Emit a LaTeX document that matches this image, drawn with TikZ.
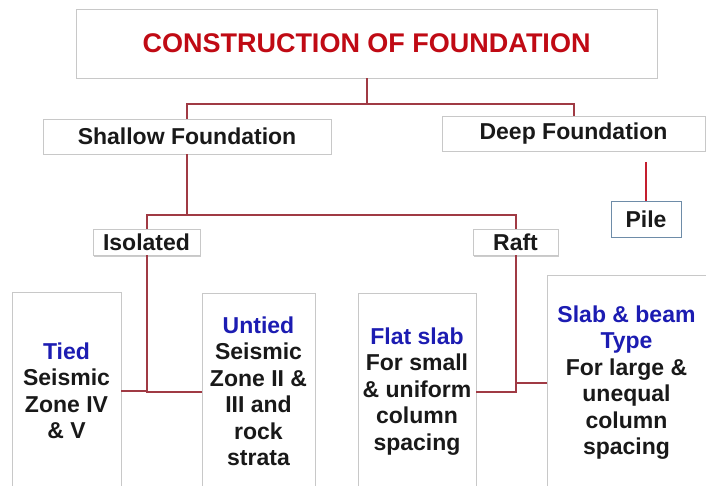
\documentclass[tikz,border=0pt]{standalone}
\usepackage{fontspec}
\setmainfont{Liberation Sans}
\usetikzlibrary{shadows}

\definecolor{linkred}{RGB}{160,58,68}
\definecolor{pilered}{RGB}{196,30,46}
\definecolor{headred}{RGB}{192,10,20}
\definecolor{typeblue}{RGB}{28,28,178}
\definecolor{boxgray}{RGB}{200,200,200}
\definecolor{pileedge}{RGB}{110,140,168}

\newcommand{\headfont}{\fontsize{27}{31}\selectfont\bfseries}
\newcommand{\bodyfont}{\fontsize{23}{26.5}\selectfont\bfseries}

\begin{document}
\begin{tikzpicture}[
    x=1pt, y=-1pt,
    box/.style={draw=boxgray, line width=0.8pt, fill=white, inner sep=0pt,
        align=center, text=black!90, font=\bodyfont,
        drop shadow={shadow xshift=1pt, shadow yshift=-1.5pt, fill=black!40, opacity=0.5}},
    link/.style={draw=linkred, line width=2pt}
]
\useasboundingbox (0,0) rectangle (706,486);

% Top heading
\node[box, minimum width=581, minimum height=69, font=\headfont, text=headred] (title) at (366.5,43.5) {CONSTRUCTION OF FOUNDATION};

% Two main kinds
\node[box, minimum width=288, minimum height=35] (shallow) at (187,136.5) {Shallow Foundation};
\node[box, minimum width=263, minimum height=35] (deep) at (573.5,133.5) {Deep Foundation};

% Deep foundation branch
\node[box, draw=pileedge, minimum width=70, minimum height=36] (pile) at (646,219) {Pile};
\coordinate (pileTop) at (646,162);

% Shallow foundation branch
\node[box, minimum width=107, minimum height=26] (iso) at (146.5,242) {Isolated};
\node[box, minimum width=85, minimum height=26] (raft) at (515.5,242) {Raft};

% Isolated footings
\node[box, minimum width=109, minimum height=198] (tied) at (66.5,391)
    {\textcolor{typeblue}{Tied}\\Seismic\\Zone IV\\\& V};
\node[box, minimum width=113, minimum height=197] (untied) at (258.5,391.5)
    {\textcolor{typeblue}{Untied}\\Seismic\\Zone II \&\\III and\\rock\\strata};

% Raft footings
\node[box, minimum width=118, minimum height=197] (flat) at (417,391.5)
    {\textcolor{typeblue}{Flat slab}\\For small\\\& uniform\\column\\spacing};
\node[box, minimum width=159, minimum height=215] (beam) at (626.5,382.5)
    {\textcolor{typeblue}{Slab \& beam}\\\textcolor{typeblue}{Type}\\For large \&\\unequal\\column\\spacing};

% Connectors
\draw[link] (title.south) -- ++(0,25.5) -| (shallow.north);
\draw[link] (title.south) -- ++(0,25.5) -| (deep.north);
\draw[link, draw=pilered] (pileTop) -- (pile.north);
\draw[link] (shallow.south) -- ++(0,61) -| (iso.north);
\draw[link] (shallow.south) -- ++(0,61) -| (raft.north);
\draw[link] (iso.south) |- (tied.east);
\draw[link] (iso.south) |- (untied.west);
\draw[link] (raft.south) |- (flat.east);
\draw[link] (raft.south) |- (beam.west);

\end{tikzpicture}
\end{document}
